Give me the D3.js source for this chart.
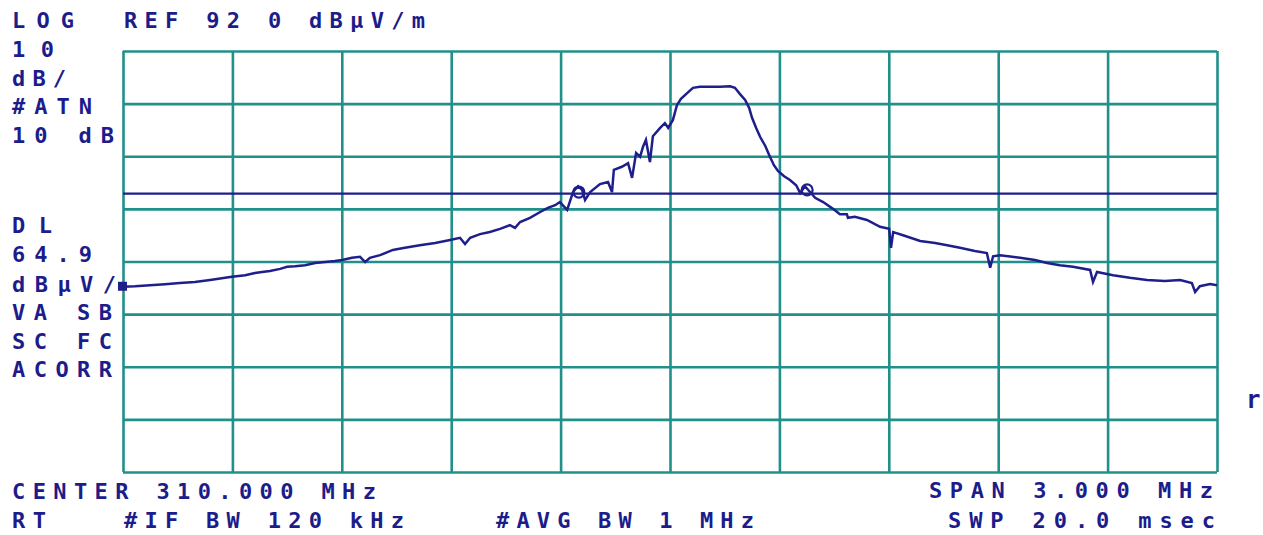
<!DOCTYPE html>
<html>
<head>
<meta charset="utf-8">
<script src="https://cdn.jsdelivr.net/npm/d3@7"></script>
<style>
  html, body { margin: 0; padding: 0; background: #ffffff; }
  svg { display: block; }
  text { font-family: "DejaVu Sans Mono", "Liberation Mono", monospace; font-weight: bold; fill: #1c1c8a; }
</style>
</head>
<body>
<script>
// ---- data (frequency in MHz, level in dBµV/m) ----
const freqs = [308.500,308.533,308.574,308.615,308.656,308.697,308.739,308.780,308.799,308.835,
  308.862,308.881,308.903,308.931,308.950,308.972,308.999,309.027,309.054,309.081,
  309.101,309.128,309.150,309.164,309.177,309.205,309.240,309.273,309.314,309.356,
  309.397,309.424,309.438,309.452,309.479,309.506,309.534,309.561,309.575,309.589,
  309.616,309.644,309.665,309.685,309.698,309.718,309.734,309.748,309.759,309.767,
  309.781,309.808,309.830,309.841,309.846,309.868,309.885,309.896,309.907,309.918,
  309.926,309.934,309.945,309.953,309.973,309.986,309.995,310.008,310.019,310.030,
  310.047,310.063,310.082,310.110,310.137,310.165,310.178,310.192,310.206,310.217,
  310.225,310.236,310.247,310.261,310.274,310.285,310.296,310.313,310.329,310.346,
  310.357,310.370,310.384,310.398,310.420,310.447,310.466,310.485,310.488,310.507,
  310.540,310.576,310.601,310.606,310.612,310.639,310.686,310.727,310.760,310.795,
  310.836,310.869,310.878,310.886,310.905,310.960,311.001,311.034,311.069,311.105,
  311.152,311.160,311.171,311.215,311.261,311.308,311.357,311.399,311.431,311.440,
  311.453,311.481,311.500];
const levels = [47.2,47.3,47.5,47.7,47.9,48.1,48.5,48.9,49.1,49.4,
  49.8,50.0,50.2,50.6,51.0,51.1,51.3,51.7,51.9,52.1,
  52.3,52.7,52.9,51.9,52.7,53.2,54.2,54.6,55.1,55.5,
  56.1,56.5,55.3,56.5,57.2,57.6,58.2,58.9,58.4,59.5,
  60.3,61.4,62.2,62.7,63.3,61.8,65.2,66.3,65.6,63.7,
  65.2,66.7,67.1,65.2,69.4,70.0,70.7,67.9,72.6,71.9,
  73.8,75.1,70.9,75.8,77.4,78.3,77.4,78.9,81.7,82.9,
  84.0,85.0,85.2,85.2,85.2,85.3,85.0,83.8,82.7,81.2,
  79.3,77.4,75.7,74.0,71.9,70.3,69.2,68.2,67.5,66.5,
  65.0,66.3,65.2,64.1,63.3,62.0,61.0,61.0,60.3,60.5,
  59.9,58.6,58.2,54.6,57.6,57.0,55.9,55.5,55.1,54.6,
  54.0,53.6,50.8,53.0,53.2,52.7,52.3,51.7,51.3,51.0,
  50.4,48.1,50.0,49.4,48.9,48.5,48.3,48.5,47.9,46.2,
  47.3,47.7,47.5];
const gridFreqs = [308.5,308.8,309.1,309.4,309.7,310.0,310.3,310.6,310.9,311.2,311.5];
const gridLevels = [92,82,72,62,52,42,32,22,12];
const refLevel = 92.0;
const bottomLevel = 12.0;
const displayLine = 64.9;
const loopFreqs = [309.750, 310.376];
const loopLevels = [65.2, 65.6];

const leftLabels = ["LOG","10","dB/","#ATN","10 dB","DL","64.9","dBμV/","VA SB","SC FC","ACORR"];
const topLabel = "REF 92 0 dBμV/m";
const bottomLabels = ["CENTER 310.000 MHz","RT","#IF BW 120 kHz","#AVG BW 1 MHz","SPAN 3.000 MHz","SWP 20.0 msec"];

// ---- layout ----
const W = 1263, H = 535;
const plot = {left: 123, right: 1217, top: 51, bottom: 472};
const gridColor = "#21908a";
const traceColor = "#1f1f8c";

const svg = d3.select("body").append("svg").attr("width", W).attr("height", H);

const x = d3.scaleLinear().domain([gridFreqs[0], gridFreqs[gridFreqs.length-1]]).range([plot.left, plot.right]);
const y = d3.scaleLinear().domain([bottomLevel, refLevel]).range([plot.bottom, plot.top]);

// grid via axes
const gx = svg.append("g").attr("transform", `translate(0,${plot.bottom})`)
  .call(d3.axisBottom(x).tickValues(gridFreqs).tickSize(-(plot.bottom - plot.top)).tickFormat(""));
const gy = svg.append("g").attr("transform", `translate(${plot.left},0)`)
  .call(d3.axisLeft(y).tickValues(gridLevels).tickSize(-(plot.right - plot.left)).tickFormat(""));
[gx, gy].forEach(g => {
  g.select(".domain").remove();
  g.selectAll(".tick line").attr("stroke", gridColor).attr("stroke-width", 2.6);
});

// display line
svg.append("line")
  .attr("x1", x(gridFreqs[0])).attr("x2", x(gridFreqs[gridFreqs.length-1]))
  .attr("y1", y(displayLine)).attr("y2", y(displayLine))
  .attr("stroke", traceColor).attr("stroke-width", 2.2);

// trace
const pts = freqs.map((f, i) => [f, levels[i]]);
svg.append("path")
  .datum(pts)
  .attr("fill", "none")
  .attr("stroke", traceColor)
  .attr("stroke-width", 2.5)
  .attr("stroke-linejoin", "miter")
  .attr("d", d3.line().x(d => x(d[0])).y(d => y(d[1])));

// small loops near display-line crossings
svg.selectAll("circle.loop").data(loopFreqs).enter().append("circle")
  .attr("class", "loop")
  .attr("cx", (d) => x(d)).attr("cy", (d, i) => y(loopLevels[i]))
  .attr("r", 5.5).attr("fill", "none").attr("stroke", traceColor).attr("stroke-width", 2.2);

// start marker
svg.append("rect")
  .attr("x", x(freqs[0]) - 5).attr("y", y(levels[0]) - 5)
  .attr("width", 9).attr("height", 9)
  .attr("fill", traceColor);

// ---- texts ----
function label(str, x0, base, len, size) {
  svg.append("text")
    .attr("x", x0).attr("y", base)
    .attr("font-size", size || 22)
    .attr("textLength", len)
    .attr("lengthAdjust", "spacing")
    .text(str);
}
// left column
const leftBases = [28, 57, 86, 114, 143, 233, 262, 292, 320, 349, 377];
const leftLens  = [62, 42, 54, 80, 102, 40, 80, 104, 100, 100, 100];
leftLabels.forEach((s, i) => label(s, 12, leftBases[i], leftLens[i], 22));
// top
label(topLabel, 124, 28, 301, 22);
// bottom
label(bottomLabels[0], 12, 499, 364, 22);
label(bottomLabels[1], 12, 528, 34, 22);
label(bottomLabels[2], 124, 528, 280, 22);
label(bottomLabels[3], 496, 528, 258, 22);
label(bottomLabels[4], 929, 498, 284, 22);
label(bottomLabels[5], 948, 528, 267, 22);
// cut-off glyph at the right edge
label("r", 1246, 408, 14, 24);
</script>
</body>
</html>
